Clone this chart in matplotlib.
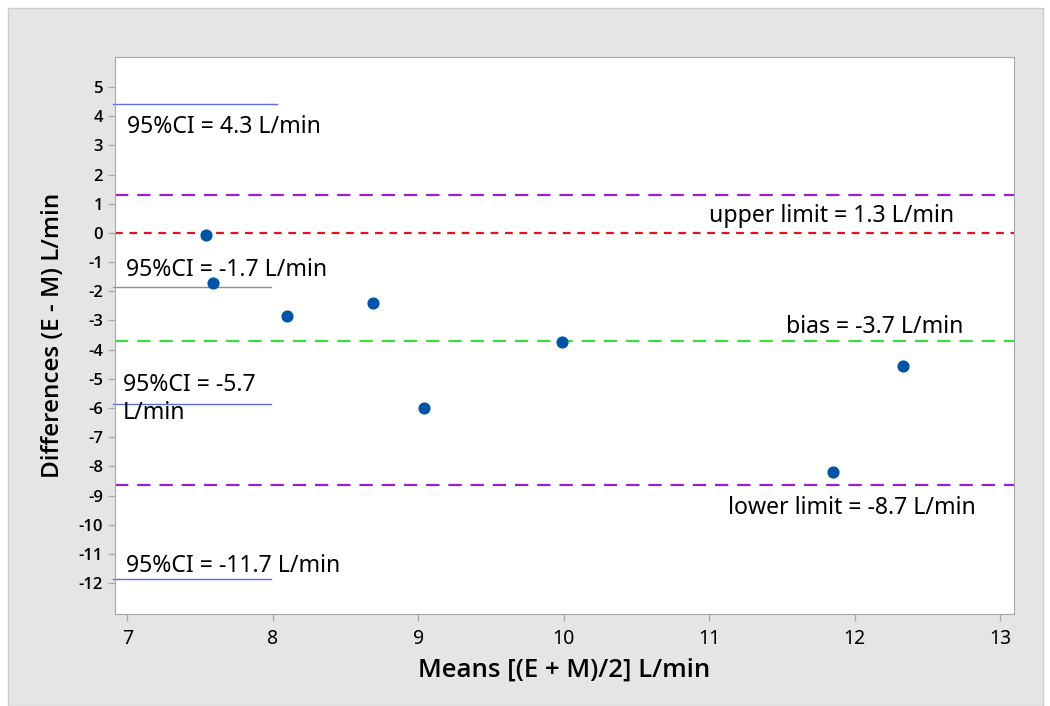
import matplotlib.pyplot as plt
from matplotlib.patches import Rectangle

# Bland-Altman data (E vs M)
means = [7.54, 7.59, 8.10, 8.69, 9.04, 9.99, 11.85, 12.33]
diffs = [-0.07, -1.71, -2.85, -2.40, -6.00, -3.74, -8.19, -4.56]

upper_limit = 1.3
bias = -3.72
lower_limit = -8.65
ci_levels = [4.42, -1.85, -5.86, -11.86]
ci_colors = ['#5b6fd6', '#909090', '#5b6fd6', '#5b6fd6']

xticks = list(range(7, 14))
yticks = list(range(-12, 6))

plt.rcParams['font.family'] = ['Noto Sans', 'DejaVu Sans']
bold_font = ['Open Sans', 'DejaVu Sans']

fig = plt.figure(figsize=(10.5, 7.06), dpi=100, facecolor='white')
fig.patches.append(Rectangle((8 / 1050, 0), 1035 / 1050, 698 / 706,
                             transform=fig.transFigure, facecolor='#e5e5e5',
                             edgecolor='#cccccc', linewidth=1, zorder=-10))

ax = fig.add_axes([115 / 1050, 1 - 614 / 706, 899 / 1050, 557 / 706])
ax.set_facecolor('white')

# reference lines
ax.axhline(upper_limit, color='#9a1fd0', ls=(0, (6, 4)), lw=1.6)
ax.axhline(0, color='#e0151b', ls=(0, (3.5, 3)), lw=1.6)
ax.axhline(bias, color='#3ddc3d', ls=(0, (6, 4)), lw=1.6)
ax.axhline(lower_limit, color='#9a1fd0', ls=(0, (6, 4)), lw=1.6)

# confidence interval markers
ci_ends = [8.03, 7.99, 7.99, 7.99]
for lvl, c, xe in zip(ci_levels, ci_colors, ci_ends):
    ax.plot([6.90, xe], [lvl, lvl], color=c, lw=1.0, clip_on=False)

ax.scatter(means, diffs, s=60, color='#0054a6', zorder=5)

fs = 16.6
ax.text(7.0, 3.63, '95%CI = 4.3 L/min', fontsize=fs, va='center')
ax.text(6.99, -1.27, '95%CI = -1.7 L/min', fontsize=fs, va='center')
ax.text(6.97, -5.21, '95%CI = -5.7', fontsize=fs, va='center')
ax.text(6.97, -6.17, 'L/min', fontsize=fs, va='center')
ax.text(6.99, -11.42, '95%CI = -11.7 L/min', fontsize=fs, va='center')
ax.text(12.68, 0.58, 'upper limit = 1.3 L/min', fontsize=fs, va='center', ha='right')
ax.text(12.75, -3.22, 'bias = -3.7 L/min', fontsize=fs, va='center', ha='right')
ax.text(12.83, -9.43, 'lower limit = -8.7 L/min', fontsize=fs, va='center', ha='right')

ax.set_xlim(6.915, 13.095)
ax.set_ylim(-13.06, 6.03)
ax.set_xticks(xticks, labels=[str(t) for t in xticks], fontsize=14)
ax.set_yticks(yticks, labels=[str(t) for t in yticks], fontsize=12,
              family=bold_font, fontweight='semibold')

for s in ax.spines.values():
    s.set_color('#a8a8a8')
ax.tick_params(direction='out', length=5, color='#a8a8a8', width=1)
ax.tick_params(axis='x', pad=6)

ax.set_xlabel('Means [(E + M)/2] L/min', fontsize=18.5, family=bold_font,
              fontweight='semibold', labelpad=6)
ax.set_ylabel('Differences (E - M) L/min', fontsize=17.5, family=bold_font,
              fontweight='semibold', labelpad=10)

fig.savefig('out.png', dpi=100)
